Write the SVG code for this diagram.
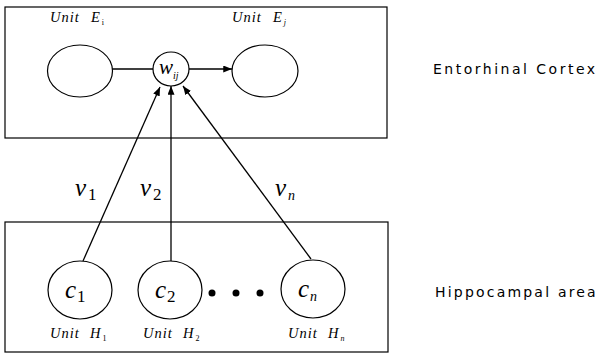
<svg xmlns="http://www.w3.org/2000/svg" width="603" height="354" viewBox="0 0 603 354">
<style>
.box{fill:none;stroke:#000;stroke-width:1.2}
.node{fill:#fff;stroke:#000;stroke-width:1.2}
.edge{fill:none;stroke:#000;stroke-width:1.3}
.unit{font-family:"Liberation Serif",serif;font-style:italic;font-size:14.5px;letter-spacing:1px;fill:#000}
.sub{font-family:"Liberation Serif",serif;font-style:normal;font-size:8px}
.subi{font-family:"Liberation Serif",serif;font-style:italic;font-size:8px}
.w{font-family:"Liberation Serif",serif;font-style:italic;font-size:21px;fill:#000}
.wsub{font-family:"Liberation Serif",serif;font-style:italic;font-size:10px}
.var{font-family:"Liberation Serif",serif;font-style:italic;font-size:25px;fill:#000}
.vsub{font-family:"Liberation Serif",serif;font-style:normal;font-size:17px}
.vsubi{font-family:"Liberation Serif",serif;font-style:italic;font-size:14px}
.area{font-family:"DejaVu Sans","Liberation Sans",sans-serif;font-size:14px;fill:#000}
</style>
<defs>
<marker id="ah" viewBox="0 0 10 8" refX="10" refY="4" markerWidth="9" markerHeight="7" markerUnits="userSpaceOnUse" orient="auto">
<path d="M0,0 L10,4 L0,8 Z" fill="#000"/>
</marker>
</defs>
<rect class="box" x="5" y="7" width="382" height="131"/>
<rect class="box" x="5" y="222" width="383" height="130"/>
<text class="area" x="433" y="74" letter-spacing="2.5">Entorhinal Cortex</text>
<text class="area" x="435" y="297" letter-spacing="2.2">Hippocampal area</text>
<g id="connectors">
<line class="edge" x1="112" y1="69" x2="153" y2="69"/>
<line class="edge" x1="189" y1="69" x2="232" y2="69" marker-end="url(#ah)"/>
<line class="edge" x1="83" y1="261" x2="160" y2="87" marker-end="url(#ah)"/>
<line class="edge" x1="171" y1="261" x2="171" y2="86" marker-end="url(#ah)"/>
<line class="edge" x1="311" y1="259" x2="183" y2="86" marker-end="url(#ah)"/>
<text class="var" x="75" y="196">v<tspan class="vsub" dx="2" dy="4">1</tspan></text>
<text class="var" x="140" y="196">v<tspan class="vsub" dx="2" dy="4">2</tspan></text>
<text class="var" x="275" y="196">v<tspan class="vsubi" dx="2" dy="4">n</tspan></text>
</g>
<g id="unitEi">
<ellipse class="node" cx="80" cy="71" rx="32.5" ry="26"/>
<text class="unit" x="50" y="22">Unit<tspan x="91">E</tspan><tspan class="sub" dx="1" dy="3">i</tspan></text>
</g>
<g id="wij">
<ellipse class="node" cx="171" cy="69" rx="18" ry="17"/>
<text class="w" x="159" y="74">w<tspan class="wsub" dy="5">ij</tspan></text>
</g>
<g id="unitEj">
<ellipse class="node" cx="265" cy="71" rx="33" ry="26"/>
<text class="unit" x="232" y="22">Unit<tspan x="273">E</tspan><tspan class="subi" dx="1" dy="3">j</tspan></text>
</g>
<g id="unitH1">
<ellipse class="node" cx="80" cy="290" rx="32" ry="29"/>
<text class="var" x="65" y="298">c<tspan class="vsub" dx="1" dy="4">1</tspan></text>
<text class="unit" x="50" y="338">Unit<tspan x="90">H</tspan><tspan class="sub" dx="1" dy="3">1</tspan></text>
</g>
<g id="unitH2">
<ellipse class="node" cx="170" cy="290" rx="32" ry="29"/>
<text class="var" x="155" y="298">c<tspan class="vsub" dx="1" dy="4">2</tspan></text>
<text class="unit" x="143" y="338">Unit<tspan x="183">H</tspan><tspan class="sub" dx="1" dy="3">2</tspan></text>
</g>
<g id="dots">
<circle cx="212" cy="293" r="3.5" fill="#000"/>
<circle cx="236" cy="293" r="3.5" fill="#000"/>
<circle cx="260" cy="293" r="3.5" fill="#000"/>
</g>
<g id="unitHn">
<ellipse class="node" cx="313" cy="289" rx="32" ry="29"/>
<text class="var" x="298" y="297">c<tspan class="vsubi" dx="1" dy="4">n</tspan></text>
<text class="unit" x="288" y="338">Unit<tspan x="328">H</tspan><tspan class="subi" dx="1" dy="3">n</tspan></text>
</g>
</svg>
